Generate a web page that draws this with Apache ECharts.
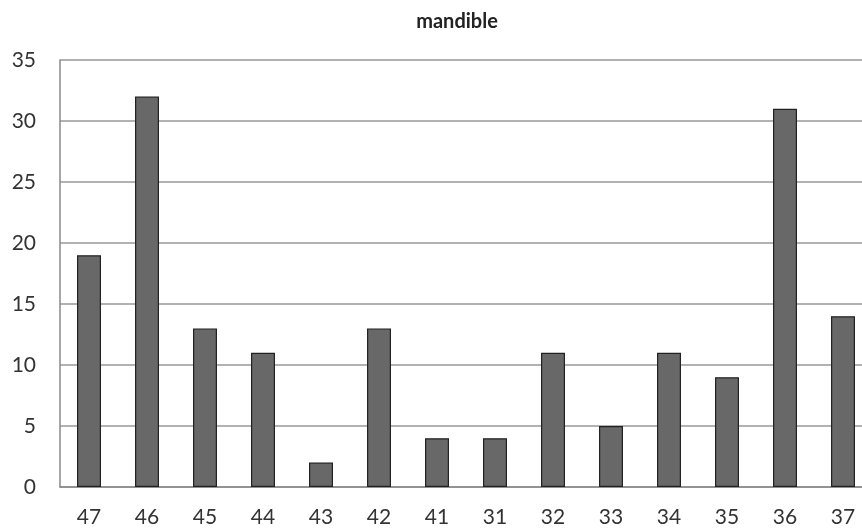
<!DOCTYPE html>
<html><head><meta charset="utf-8">
<script src="https://cdn.jsdelivr.net/npm/echarts@6/dist/echarts.min.js"></script>
<style>html,body{margin:0;padding:0;background:#fff;}#c{width:862px;height:530px;}</style>
</head><body><div id="c"></div>
<script>
const categories = ['47','46','45','44','43','42','41','31','32','33','34','35','36','37'];
const values = [19,32,13,11,2,13,4,4,11,5,11,9,31,14];
const yTicks = {min:0, max:35, interval:5};

const chart = echarts.init(document.getElementById('c'), null, {renderer:'canvas'});
chart.setOption({
  animation:false,
  backgroundColor:'#fff',
  title:{text:'mandible', left:452, textAlign:'center', top:7,
    textStyle:{fontFamily:'Lato', fontWeight:'bold', fontSize:20, color:'#222'}},
  grid:{left:60, width:812, top:60, height:427, containLabel:false, outerBoundsMode:'none'},
  xAxis:{type:'category', data:categories,
    axisLine:{show:true, lineStyle:{color:'#888', width:1.5}},
    axisTick:{show:false},
    axisLabel:{fontFamily:'Lato', fontSize:21, color:'#333', margin:20, interval:0}},
  yAxis:{type:'value', min:yTicks.min, max:yTicks.max, interval:yTicks.interval,
    axisLine:{show:true, lineStyle:{color:'#888', width:1.5}},
    axisTick:{show:false},
    splitLine:{lineStyle:{color:'#999', width:1.5}},
    axisLabel:{fontFamily:'Lato', fontSize:21, color:'#333', margin:24}},
  series:[{type:'bar', data:values, barWidth:24,
    itemStyle:{color:'#686868', borderColor:'#222', borderWidth:1.2}}]
});
</script></body></html>
